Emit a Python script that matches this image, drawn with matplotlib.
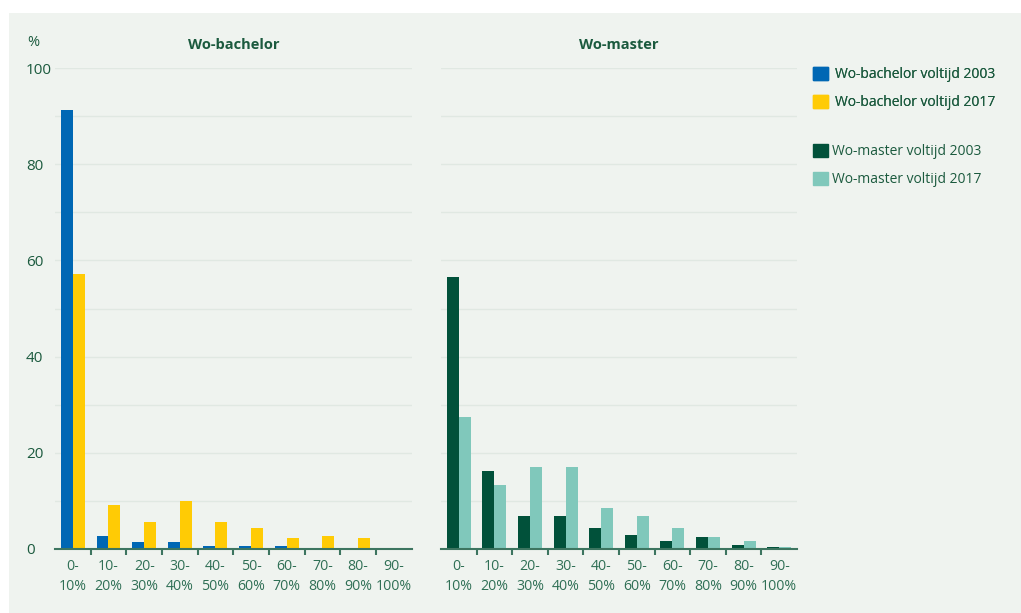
import matplotlib
matplotlib.use("Agg")
import matplotlib.pyplot as plt
import numpy as np
from matplotlib.patches import Rectangle, Patch

plt.rcParams['font.family'] = ['Open Sans', 'DejaVu Sans']

# categorieen
categories = ['0-\n10%', '10-\n20%', '20-\n30%', '30-\n40%', '40-\n50%',
              '50-\n60%', '60-\n70%', '70-\n80%', '80-\n90%', '90-\n100%']

bachelor_2003 = [91.3, 2.7, 1.4, 1.4, 0.7, 0.7, 0.7, 0, 0, 0]
bachelor_2017 = [57.1, 9.2, 5.7, 10.0, 5.7, 4.3, 2.2, 2.8, 2.2, 0]
master_2003 = [56.5, 16.3, 6.9, 6.9, 4.4, 3.0, 1.7, 2.5, 0.9, 0.4]
master_2017 = [27.4, 13.4, 17.1, 17.1, 8.6, 6.9, 4.4, 2.5, 1.7, 0.4]

yticks = [0, 20, 40, 60, 80, 100]

c_blue = '#0067b4'
c_yellow = '#ffcb05'
c_dark = '#01513a'
c_light = '#80c8bb'
c_text = '#1b5a3e'
c_tick = '#2f6f55'
c_grid = '#e0e8e2'
c_bg = '#eff3ef'

W, H = 1021, 613
fig = plt.figure(figsize=(W / 100, H / 100), dpi=100)
fig.patch.set_facecolor('white')
fig.add_artist(Rectangle((9 / W, 0), 1, (H - 13) / H, transform=fig.transFigure,
                         facecolor=c_bg, edgecolor='none', zorder=0))

ax1 = fig.add_axes([55 / W, 64 / H, 356.5 / W, 481 / H])
ax2 = fig.add_axes([441 / W, 64 / H, 356 / W, 481 / H])

x = np.arange(len(categories))
bw = 0.335

ax1.bar(x - bw / 2, bachelor_2003, bw, color=c_blue, zorder=3)
ax1.bar(x + bw / 2, bachelor_2017, bw, color=c_yellow, zorder=3)
ax2.bar(x - bw / 2, master_2003, bw, color=c_dark, zorder=3)
ax2.bar(x + bw / 2, master_2017, bw, color=c_light, zorder=3)

for ax, title in [(ax1, 'Wo-bachelor'), (ax2, 'Wo-master')]:
    ax.set_facecolor('none')
    ax.set_xlim(-0.5, len(categories) - 0.5)
    ax.set_ylim(0, 100)
    for g in range(10, 101, 10):
        ax.axhline(g, color=c_grid, lw=1, zorder=1)
    for s in ['top', 'right', 'left']:
        ax.spines[s].set_visible(False)
    ax.spines['bottom'].set_color('#3d7560')
    ax.spines['bottom'].set_linewidth(1.5)
    ax.spines['bottom'].set_zorder(4)
    ax.set_xticks(x)
    ax.set_xticklabels(categories, fontsize=10.2, color=c_tick, linespacing=1.45)
    ax.set_xticks(x[:-1] + 0.5, minor=True)
    ax.tick_params(axis='x', which='major', length=0, pad=7)
    ax.tick_params(axis='x', which='minor', length=4, width=1.5, color='#3d7560')
    ax.set_title(title, fontsize=10.5, fontweight='bold', color=c_text, pad=14)

ax1.set_yticks(yticks)
ax1.set_yticklabels([str(v) for v in yticks], fontsize=11, color=c_text, ha='left')
ax1.tick_params(axis='y', length=0, pad=21)
ax2.set_yticks([])

fig.text(27 / W, 1 - 43 / H, '%', fontsize=10.5, color=c_text, va='center', ha='left')

leg1 = fig.legend(handles=[Patch(color=c_blue, label='Wo-bachelor voltijd 2003'),
                           Patch(color=c_yellow, label='Wo-bachelor voltijd 2017')],
                  loc='upper left', bbox_to_anchor=(800 / W, 1 - 54 / H), frameon=False,
                  fontsize=10, labelcolor=c_text, handlelength=1.1, handleheight=1.1,
                  handletextpad=0.5, labelspacing=0.95)
fig.add_artist(leg1)
fig.legend(handles=[Patch(color=c_dark, label='Wo-master voltijd 2003'),
                    Patch(color=c_light, label='Wo-master voltijd 2017')],
           loc='upper left', bbox_to_anchor=(800 / W, 1 - 131 / H), frameon=False,
           fontsize=10, labelcolor=c_text, handlelength=1.1, handleheight=1.1,
           handletextpad=0.3, labelspacing=0.95)

fig.savefig('out.png', dpi=100, facecolor=fig.get_facecolor())
